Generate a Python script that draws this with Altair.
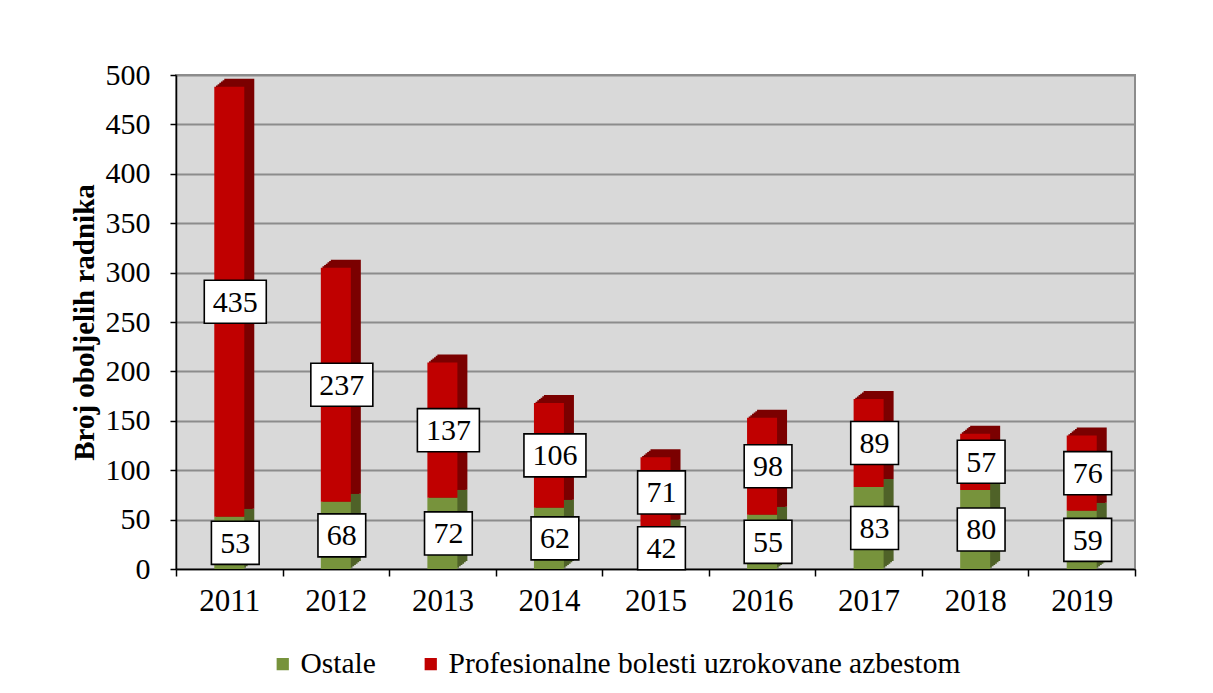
import altair as alt
import pandas as pd

years = ["2011", "2012", "2013", "2014", "2015", "2016", "2017", "2018", "2019"]
ostale = [53, 68, 72, 62, 42, 55, 83, 80, 59]
azbest = [435, 237, 137, 106, 71, 98, 89, 57, 76]
series_names = ["Ostale", "Profesionalne bolesti uzrokovane azbestom"]
front_colors = ["#77933c", "#c00000"]
dark_colors = ["#4f6228", "#7b0000"]

rows = []
for i, y in enumerate(years):
    rows.append({"year": y, "series": series_names[0], "value": ostale[i], "ord": 0})
    rows.append({"year": y, "series": series_names[1], "value": azbest[i], "ord": 1})
df = pd.DataFrame(rows)

FONT = "Liberation Serif"
W, H = 959, 494

x_enc = alt.X("year:N", sort=years, title=None,
              scale=alt.Scale(paddingInner=0, paddingOuter=0),
              axis=alt.Axis(labelAngle=0, labelFont=FONT, labelFontSize=31, labelColor="black",
                            labelPadding=10, domainColor="black", domainWidth=1.5,
                            tickColor="black", tickBand="extent", tickSize=7, tickWidth=1.5))
y_enc = alt.Y("value:Q", stack="zero",
              scale=alt.Scale(domain=[0, 500], nice=False),
              title="Broj oboljelih radnika",
              axis=alt.Axis(values=list(range(0, 501, 50)), labelFont=FONT, labelFontSize=30,
                            labelColor="black", labelPadding=20, tickSize=6, tickColor="black",
                            tickWidth=1.5, domainColor="black", domainWidth=1.5,
                            gridColor="#8c8c8c", gridWidth=2,
                            titleFont=FONT, titleFontSize=29, titleFontWeight="bold",
                            titleColor="black", titleX=-92, titleY=247, titleAngle=-90,
                            titleBaseline="middle", titleAlign="center"))
order_enc = alt.Order("ord:Q")

base = alt.Chart(df)

dark_layers = []
steps = 6
for k in range(1, steps + 1):
    dx = 10.0 * k / steps
    dy = -8.0 * k / steps
    dark_layers.append(
        base.mark_bar(size=30, xOffset=dx, yOffset=dy).encode(
            x=x_enc, y=y_enc, order=order_enc,
            color=alt.Color("series:N", scale=alt.Scale(domain=series_names, range=dark_colors),
                            legend=None),
        )
    )

front = base.mark_bar(size=30).encode(
    x=x_enc, y=y_enc, order=order_enc,
    color=alt.Color("series:N",
                    scale=alt.Scale(domain=series_names, range=front_colors),
                    legend=alt.Legend(title=None, orient="none", direction="horizontal",
                                      legendX=92, legendY=574, symbolType="square",
                                      symbolSize=150, symbolStrokeWidth=0, labelFont=FONT,
                                      labelFontSize=29.5, labelColor="black", labelOffset=3,
                                      labelLimit=1000, columnPadding=40, padding=0)),
)

label_base = base.transform_stack(
    stack="value", groupby=["year"], as_=["v0", "v1"],
    sort=[alt.SortField("ord", order="ascending")]
).transform_calculate(
    mid="(datum.v0 + datum.v1) / 2",
    txt="toString(datum.value)",
)

box3 = "M-1,-0.694L1,-0.694L1,0.694L-1,0.694Z"
box2 = "M-0.77,-0.694L0.77,-0.694L0.77,0.694L-0.77,0.694Z"

box_layers = []
for shape_path, cond in [(box3, "datum.value >= 100"), (box2, "datum.value < 100")]:
    box_layers.append(
        label_base.transform_filter(cond).mark_point(
            shape=shape_path, filled=True, fill="white", fillOpacity=1, stroke="black",
            strokeWidth=1.6, opacity=1, size=3844, xOffset=6).encode(
            x=alt.X("year:N", sort=years),
            y=alt.Y("mid:Q"),
        )
    )

texts = label_base.mark_text(font=FONT, fontSize=30, color="black", xOffset=6, dy=1).encode(
    x=alt.X("year:N", sort=years),
    y=alt.Y("mid:Q"),
    text=alt.Text("txt:N"),
)

chart = alt.layer(*dark_layers, front, *box_layers, texts).resolve_scale(color="independent").properties(
    width=W, height=H,
    autosize=alt.AutoSizeParams(type="none"),
    padding={"left": 168, "top": 67, "right": 60, "bottom": 110},
    background="white",
).configure_view(fill="#d9d9d9", stroke="#8c8c8c", strokeWidth=2)

chart.save("out.html", embed_options={"renderer": "svg", "actions": False})
